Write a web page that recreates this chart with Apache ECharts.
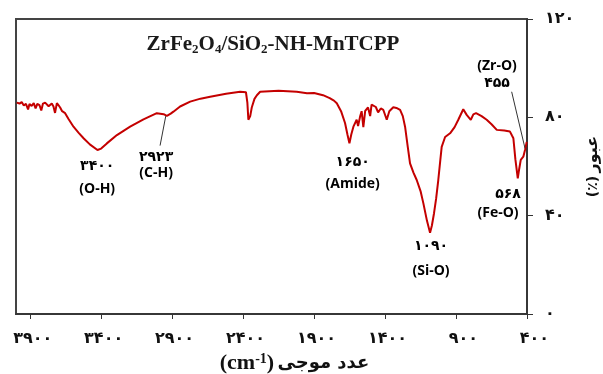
<!DOCTYPE html>
<html>
<head>
<meta charset="utf-8">
<script src="https://cdn.jsdelivr.net/npm/echarts@6/dist/echarts.min.js"></script>
<style>
  html, body { margin: 0; padding: 0; background: #fff; }
  #chart { width: 603px; height: 374px; }
</style>
</head>
<body>
<div id="chart"></div>
<script>
// FT-IR spectrum (wavenumber in cm-1, transmittance in %)
const wavenumber = [
  3995, 3975, 3960, 3945, 3930, 3915, 3905, 3890, 3875, 3862, 3850, 3835, 3822, 3810,
  3795, 3782, 3770, 3759, 3748, 3736, 3725, 3712, 3700, 3689, 3675, 3654, 3630, 3595,
  3560, 3524, 3480, 3426, 3400, 3360, 3289, 3196, 3102, 3008, 2960, 2937, 2910, 2891,
  2844, 2773, 2700, 2632, 2520, 2421, 2380, 2370, 2363, 2350, 2339, 2320, 2303, 2280,
  2150, 2022, 1950, 1900, 1837, 1790, 1760, 1740, 1710, 1682, 1665, 1651, 1638, 1623,
  1600, 1590, 1576, 1565, 1553, 1540, 1520, 1505, 1495, 1482, 1465, 1449, 1430, 1412,
  1388, 1370, 1342, 1320, 1294, 1275, 1259, 1240, 1224, 1200, 1177, 1150, 1130, 1105,
  1083, 1070, 1055, 1040, 1025, 1010, 1001, 977, 942, 910, 884, 849, 825, 796,
  778, 759, 720, 684, 650, 613, 560, 520, 505, 496, 482, 465, 455, 444,
  426, 414, 402
];
const transmittance = [
  86.0, 85.6, 86.2, 84.8, 85.5, 83.2, 85.4, 84.6, 85.8, 83.6, 85.5, 85.0, 82.8, 85.6,
  86.0, 86.2, 84.5, 83.8, 85.6, 84.4, 81.8, 85.8, 84.9, 84.0, 82.5, 81.7, 79.3, 76.2,
  73.8, 71.5, 69.0, 66.7, 67.3, 69.4, 72.8, 76.2, 79.2, 81.7, 81.3, 80.6, 81.5, 82.3,
  84.4, 86.4, 87.6, 88.4, 89.6, 90.4, 90.2, 86.0, 79.0, 80.5, 84.0, 87.5, 89.0, 90.4,
  90.8, 90.4, 89.8, 89.9, 89.0, 87.8, 86.8, 85.7, 82.5, 77.7, 73.0, 69.4, 73.0, 76.2,
  79.0, 76.5, 80.3, 82.5, 76.0, 82.6, 84.0, 80.5, 85.2, 85.0, 84.2, 82.0, 83.6, 83.0,
  79.0, 82.5, 84.1, 83.8, 83.0, 80.5, 76.2, 68.0, 61.3, 57.5, 54.5, 50.0, 45.0, 38.0,
  33.0, 36.0, 41.0, 47.0, 54.5, 63.0, 68.0, 72.0, 73.5, 76.0, 79.0, 83.3, 81.0, 79.0,
  81.2, 81.7, 80.5, 79.0, 77.2, 74.9, 74.6, 74.2, 72.5, 71.5, 63.0, 55.2, 59.0, 62.7,
  64.0, 66.7, 70.0
];

const xTicks = [400, 900, 1400, 1900, 2400, 2900, 3400, 3900];

// peak annotations: number label, bond label, and where each sits (data coords)
const peakNumbers = [3400, 2923, 1650, 1090, 568, 455];
const peakBonds = ['(O-H)', '(C-H)', '(Amide)', '(Si-O)', '(Fe-O)', '(Zr-O)'];
const numberAtWn = [3428, 3013, 1628, 1076, 534, 611];
const numberAtT = [60.2, 64.0, 62.0, 27.6, 48.8, 94.0];
const bondAtWn = [3428, 3013, 1628, 1076, 604, 611];
const bondAtT = [51.0, 57.2, 53.0, 17.4, 41.0, 100.8];
const leaderCH = [[2945, 80.5], [2985, 68.5]];
const leaderZrO = [[508, 90.4], [414, 67.4]];

const FA = '"Open Sans", "DejaVu Sans", sans-serif';
const FP = '"DejaVu Sans", sans-serif';
const FS = '"Liberation Serif", "Times New Roman", serif';

const PERSIAN = '۰۱۲۳۴۵۶۷۸۹';
const toFa = v => String(v).replace(/\d/g, d => PERSIAN[d]);

const tagData = [];
peakNumbers.forEach((n, i) => {
  tagData.push({ name: toFa(n), value: [numberAtWn[i], numberAtT[i]] });
  tagData.push({ name: peakBonds[i], value: [bondAtWn[i], bondAtT[i]] });
});

const chart = echarts.init(document.getElementById('chart'), null, { renderer: 'canvas' });

chart.setOption({
  animation: false,
  backgroundColor: '#fff',
  title: {
    left: 268, top: 28, textAlign: 'center',
    text: '{b|ZrFe}{s|2}{b|O}{s|4}{b|/SiO}{s|2}{b|-NH-MnTCPP}',
    textStyle: {
      rich: {
        b: { fontFamily: FS, fontWeight: 'bold', fontSize: 21, color: '#1a1a1a', lineHeight: 23 },
        s: { fontFamily: FS, fontWeight: 'bold', fontSize: 13, color: '#1a1a1a', lineHeight: 13, verticalAlign: 'bottom' }
      }
    }
  },
  grid: {
    left: 16, right: 76, top: 19, bottom: 60,
    outerBoundsMode: 'none', containLabel: false,
    show: true, borderColor: '#444', borderWidth: 2
  },
  xAxis: {
    type: 'value', min: 400, max: 4000, inverse: true,
    name: '{c|(cm}{u|-1}{c|)} {a|عدد موجی}',
    nameLocation: 'middle', nameGap: 37,
    nameTextStyle: {
      padding: [0, 0, 0, 46],
      rich: {
        c: { fontFamily: FS, fontWeight: 'bold', fontSize: 22, color: '#111', lineHeight: 23 },
        u: { fontFamily: FS, fontWeight: 'bold', fontSize: 14, color: '#111', lineHeight: 14, verticalAlign: 'top' },
        a: { fontFamily: FP, fontWeight: 'bold', fontSize: 18, color: '#111', lineHeight: 23 }
      }
    },
    axisLine: { show: true, lineStyle: { color: '#333', width: 1.5 } },
    axisTick: { show: true, length: 5, customValues: xTicks, lineStyle: { color: '#333' } },
    axisLabel: {
      customValues: xTicks, margin: 17,
      formatter: v => '{t|' + toFa(v) + '}',
      rich: { t: { width: 44, align: 'right', fontFamily: FP, fontWeight: 'bold', fontSize: 16, color: '#111' } }
    },
    splitLine: { show: false }
  },
  yAxis: {
    type: 'value', min: 0, max: 120, interval: 40, position: 'right',
    name: '{p|(٪)} {w|عبور}',
    nameLocation: 'middle', nameRotate: 90, nameGap: 56,
    nameTextStyle: {
      rich: {
        p: { fontFamily: FP, fontWeight: 'bold', fontSize: 14, color: '#111' },
        w: { fontFamily: FP, fontWeight: 'bold', fontSize: 16, color: '#111' }
      }
    },
    axisLine: { show: true, lineStyle: { color: '#333', width: 1.5 } },
    axisTick: { show: true, length: 6, lineStyle: { color: '#333' } },
    axisLabel: {
      margin: 18, formatter: v => toFa(v),
      fontFamily: FP, fontWeight: 'bold', fontSize: 16, color: '#111'
    },
    splitLine: { show: false }
  },
  series: [
    {
      type: 'line', name: 'spectrum',
      data: wavenumber.map((w, i) => [w, transmittance[i]]),
      showSymbol: false, silent: true,
      lineStyle: { color: '#C40000', width: 2 },
      z: 3
    },
    {
      type: 'line', data: leaderCH, showSymbol: false, silent: true,
      lineStyle: { color: '#333', width: 1 }, z: 4
    },
    {
      type: 'line', data: leaderZrO, showSymbol: false, silent: true,
      lineStyle: { color: '#333', width: 1 }, z: 4
    },
    {
      type: 'scatter', data: tagData, symbolSize: 0, silent: true, z: 5,
      itemStyle: { opacity: 1 },
      label: {
        show: true, position: 'inside', formatter: '{b}',
        fontFamily: FA, fontWeight: 'bold', fontSize: 14, color: '#000',
        textBorderWidth: 0
      }
    }
  ]
});
</script>
</body>
</html>
